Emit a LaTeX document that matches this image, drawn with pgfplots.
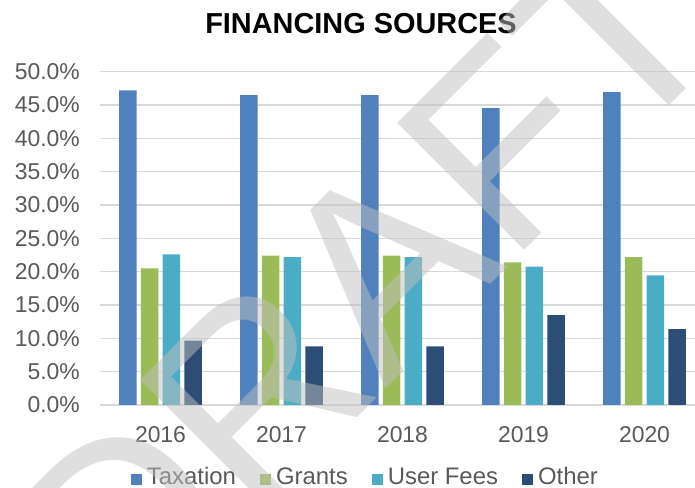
\documentclass[border=0pt]{standalone}
\usepackage{fontspec}
\setmainfont{Liberation Sans}
\usepackage{pgfplots}
\pgfplotsset{compat=1.18}
\definecolor{cTax}{HTML}{4F81BD}
\definecolor{cGra}{HTML}{9BBB59}
\definecolor{cUse}{HTML}{4BACC6}
\definecolor{cOth}{HTML}{2C4D75}
\definecolor{tickgray}{HTML}{595959}
\definecolor{gridgray}{HTML}{D9D9D9}
\definecolor{wm}{RGB}{192,192,192}
\begin{document}
\begin{tikzpicture}[x=1bp,y=1bp]
\useasboundingbox (0,0) rectangle (695,488);
\clip (0,0) rectangle (695,488);
\begin{axis}[
  at={(100bp,83bp)}, anchor=south west,
  width=605bp, height=333.3bp, scale only axis,
  xmin=-0.5, xmax=4.5, ymin=0, ymax=50,
  ybar=4.2bp, bar width=17.5bp,
  xtick={0,1,2,3,4}, xticklabels={2016,2017,2018,2019,2020},
  ytick={0,5,...,50},
  /pgf/number format/assume math mode=true,
  yticklabel={\pgfmathprintnumber[fixed,fixed zerofill,precision=1]{\tick}\%},
  major tick length=0pt,
  axis line style={draw=none},
  ymajorgrids, major grid style={gridgray, line width=1.1bp},
  tick label style={font=\fontsize{23}{23}\selectfont, text=tickgray},
  xticklabel style={anchor=base, yshift=-37.7bp, inner sep=0pt},
  yticklabel style={anchor=east, inner sep=0pt, xshift=-20bp},
  legend columns=-1,
  legend style={draw=none, fill=none, at={(axis description cs:0.0512,-0.2157)}, anchor=west,
    inner sep=0pt, outer sep=0pt, font=\fontsize{24}{24}\selectfont, text=tickgray,
    nodes={inner sep=0pt},
    /tikz/every odd column/.append style={column sep=5bp},
    /tikz/every even column/.append style={column sep=24bp}},
]
\addplot[fill=cTax, draw=none, legend image code/.code={\fill[cTax] (0bp,-8.6bp) rectangle (11bp,3bp);}]
  coordinates {(0,47.2) (1,46.5) (2,46.5) (3,44.55) (4,46.95)};
\addlegendentry{Taxation}
\addplot[fill=cGra, draw=none, legend image code/.code={\fill[cGra] (0bp,-8.6bp) rectangle (11bp,3bp);}]
  coordinates {(0,20.5) (1,22.4) (2,22.4) (3,21.4) (4,22.2)};
\addlegendentry{Grants}
\addplot[fill=cUse, draw=none, legend image code/.code={\fill[cUse] (0bp,-8.6bp) rectangle (11bp,3bp);}]
  coordinates {(0,22.6) (1,22.2) (2,22.2) (3,20.75) (4,19.45)};
\addlegendentry{User Fees}
\addplot[fill=cOth, draw=none, legend image code/.code={\fill[cOth] (0bp,-8.6bp) rectangle (11bp,3bp);}]
  coordinates {(0,9.65) (1,8.8) (2,8.8) (3,13.5) (4,11.4)};
\addlegendentry{Other}
\end{axis}
\node[anchor=base, inner sep=0pt, font=\bfseries\fontsize{29}{29}\selectfont] at (361,454.7) {FINANCING SOURCES};
\node[anchor=base, rotate=45, inner sep=0pt, text=wm, text opacity=0.5, font=\fontsize{262}{262}\selectfont] at (427,140) {DRAFT};
\end{tikzpicture}
\end{document}
